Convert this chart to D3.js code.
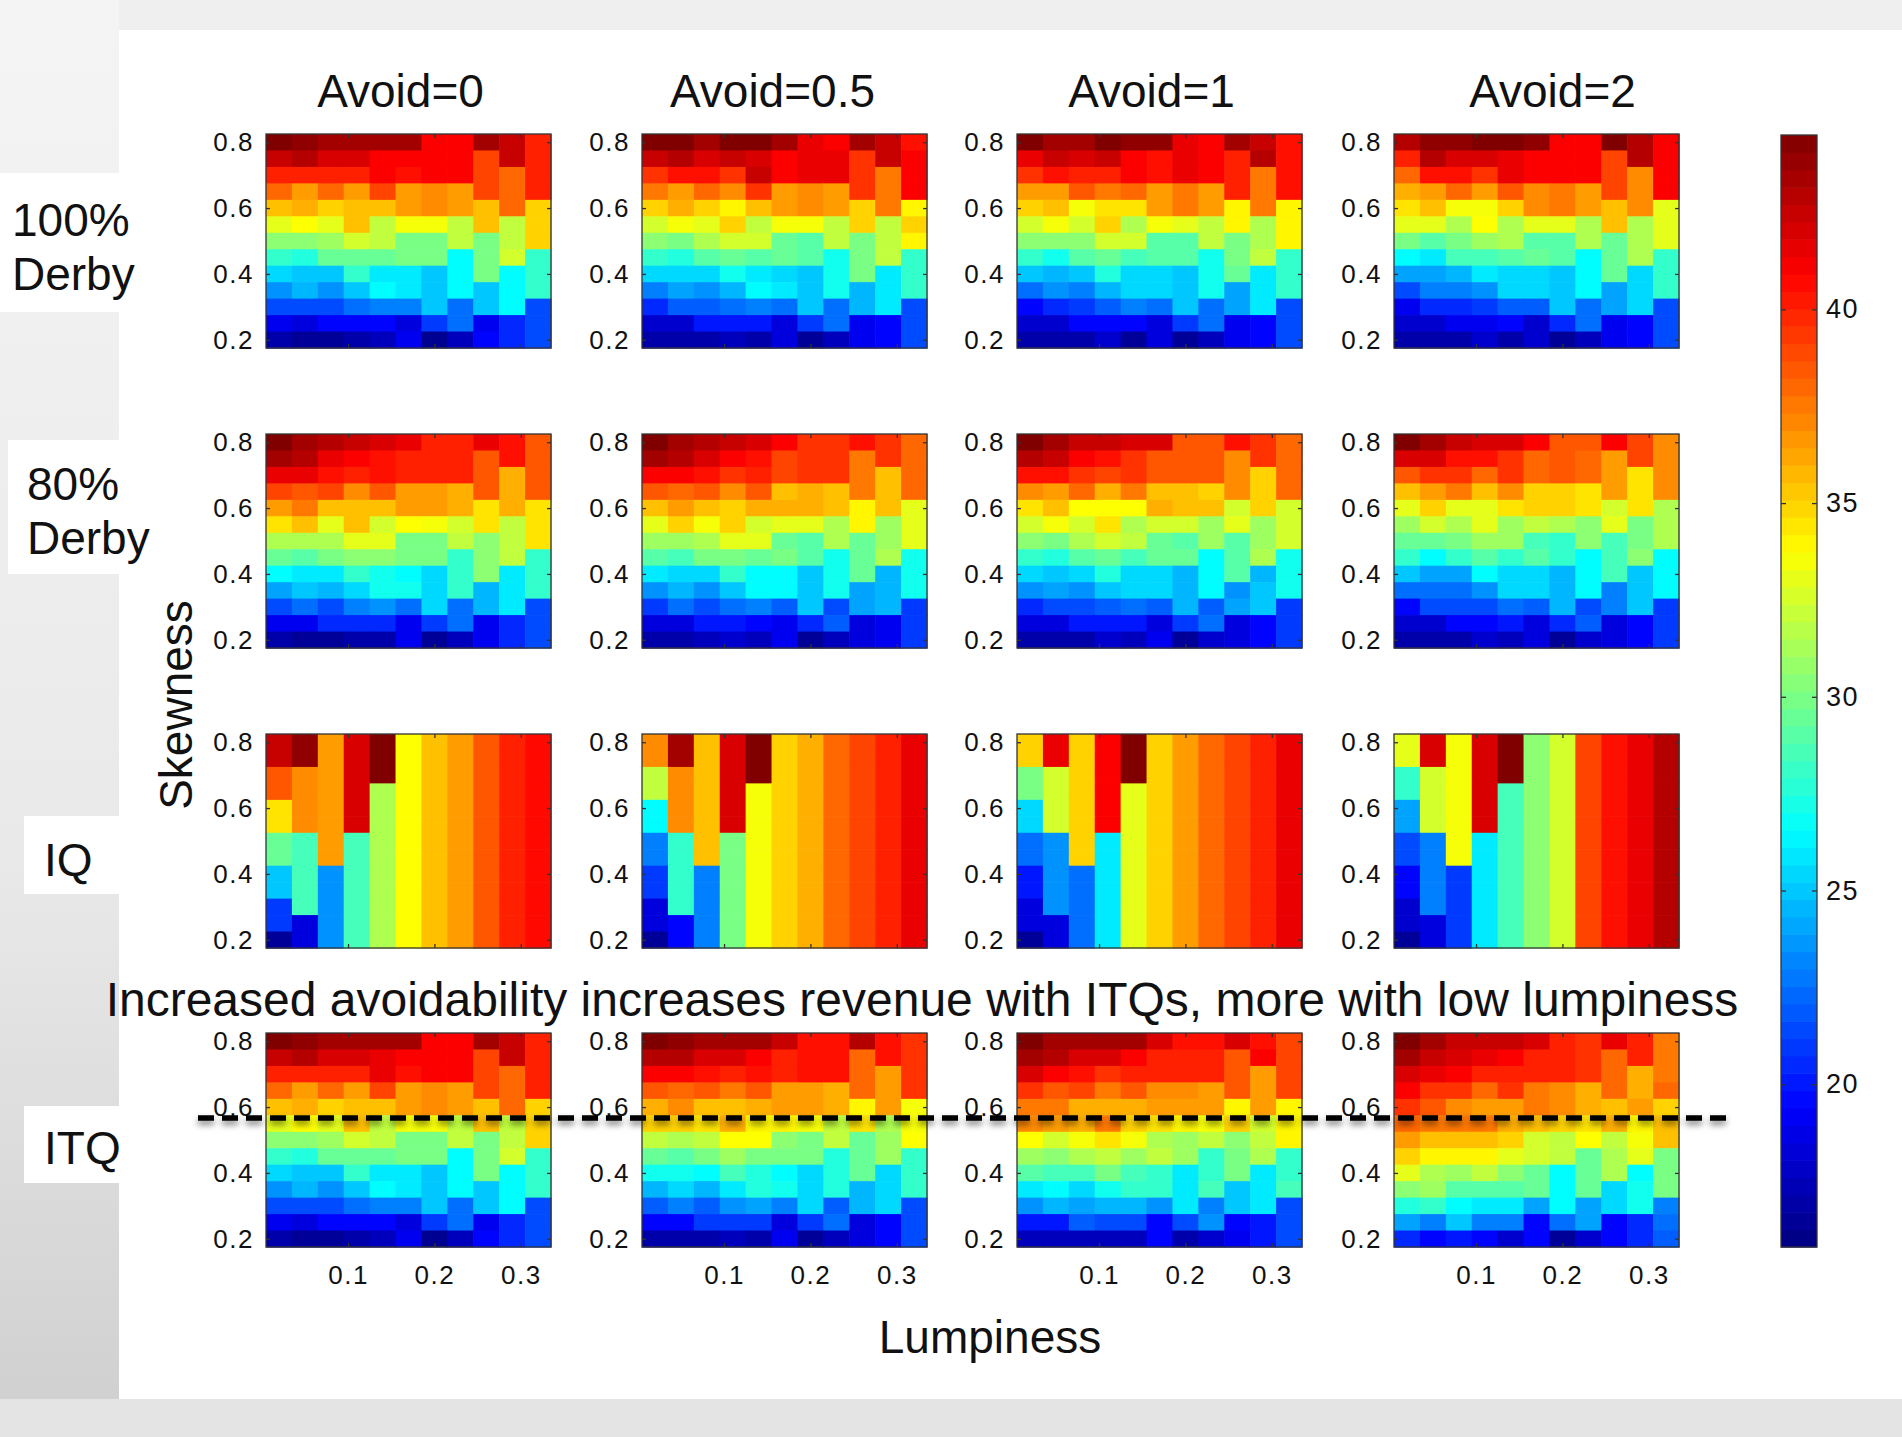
<!DOCTYPE html>
<html>
<head>
<meta charset="utf-8">
<script src="https://cdn.jsdelivr.net/npm/d3@7"></script>
<style>
html, body { margin: 0; padding: 0; background: #efefef; }
svg { display: block; font-family: "Liberation Sans", Arial, sans-serif; }
</style>
</head>
<body>
<svg id="chart" width="1902" height="1437"></svg>
<script>
// grid axes of every panel
const lumpiness = [0.02, 0.05, 0.08, 0.11, 0.14, 0.17, 0.2, 0.23, 0.26, 0.29, 0.32];
const skewness = [0.8, 0.75, 0.7, 0.65, 0.6, 0.55, 0.5, 0.45, 0.4, 0.35, 0.3, 0.25, 0.2];
const avoidLabels = ["Avoid=0", "Avoid=0.5", "Avoid=1", "Avoid=2"];
const rowLabels = [["100%", "Derby"], ["80%", "Derby"], ["IQ"], ["ITQ"]];
const colorTicks = [20, 25, 30, 35, 40];
const colorRange = [15.8, 44.5];

// revenue per cell, rows go from skewness 0.8 (top) to 0.2 (bottom)
const derby100_avoid0 = [
  [44.5, 44, 43.5, 43.5, 43.5, 43.5, 41, 41, 43.5, 42.5, 40],
  [42.5, 43, 42, 42, 41, 41, 41, 41, 39, 42.5, 40],
  [40, 40, 40, 40, 41, 40.5, 41, 41, 39, 38, 40],
  [38, 36.5, 38, 36.5, 39, 36.5, 37, 36.5, 39, 38, 40],
  [35.5, 36, 35, 35.5, 35.5, 36.5, 37, 36.5, 35.5, 38, 35],
  [33, 33.7, 33, 35.5, 32, 33.5, 33.5, 32, 35.5, 32, 35],
  [30.5, 30.5, 31, 32.5, 32, 30, 30, 32, 30, 32, 35],
  [28, 27.5, 29.5, 29.5, 29.5, 30, 30, 26.5, 30, 32.5, 28],
  [25.5, 25, 25, 28, 26, 26, 25, 26.5, 30, 26.5, 28],
  [23.5, 24.5, 23.5, 25, 26.5, 26, 25, 26.5, 25, 26.5, 28],
  [21.5, 21.5, 21.5, 22.5, 23, 23, 25, 22.5, 25, 26.5, 21.5],
  [19, 18.5, 19.5, 19.5, 19.5, 18.5, 21, 22.5, 19, 20.5, 21.5],
  [17, 16.5, 16.5, 17, 17.5, 19, 16.3, 17.5, 19.5, 20.5, 21.5]
];
const derby100_avoid05 = [
  [44.5, 44.5, 43.5, 44.5, 44.5, 43.5, 41.5, 41, 43.5, 42.5, 40.5],
  [42.5, 43, 42, 42.5, 42, 41, 41.5, 41.5, 39.5, 42.5, 41],
  [39.5, 40.5, 40.5, 39.5, 42.5, 41, 41.5, 41.5, 39.5, 37.5, 41],
  [37.5, 36.5, 38, 37, 39.5, 36.5, 37, 36.5, 39.5, 37.5, 41],
  [35, 36, 35, 34, 35.5, 36.5, 37, 36.5, 35, 37.5, 34],
  [32.5, 33.5, 33, 35, 32, 33.5, 33.5, 32, 35, 32, 35],
  [30.5, 30, 31.5, 32.5, 32.5, 29.5, 29, 32, 30, 32, 34],
  [28, 27.5, 29, 29.5, 29, 29.5, 29, 27, 30, 32, 28],
  [25.5, 25.5, 25.5, 27, 26, 25.5, 25, 27, 30, 26, 28],
  [23, 24, 23.5, 24.5, 26.5, 26, 25, 27, 24.5, 26, 28],
  [20.5, 22, 22, 22.5, 23, 22.5, 25, 22.5, 24.5, 26, 21.5],
  [18, 18, 20, 20, 20, 18.5, 21, 22.5, 19, 19.5, 21.5],
  [17, 17, 17, 17.5, 17, 18.5, 16.5, 17.5, 19, 19.5, 21.5]
];
const derby100_avoid1 = [
  [44.5, 43.5, 43.5, 44.5, 44, 44, 41.5, 41, 43.5, 42.5, 40.5],
  [41.5, 42.5, 42, 42.5, 41, 40.5, 41.5, 41, 40, 43, 40.5],
  [39.5, 40.5, 40, 40, 41, 40.5, 41.5, 41, 40, 37.5, 40.5],
  [36.5, 36.5, 38.5, 37.5, 38, 36.5, 37.5, 36.5, 40, 37.5, 40.5],
  [35, 35.5, 33.5, 34.5, 34.5, 36.5, 37.5, 36.5, 34, 37.5, 34],
  [32.5, 33.5, 32.5, 35, 31.5, 33.5, 33, 32, 34, 31.5, 34],
  [30.5, 30.5, 30.5, 32.5, 32.5, 29, 29, 32, 30, 31.5, 34],
  [28, 27, 29, 29.5, 28.5, 29, 29, 27, 30, 32, 28],
  [25, 24.5, 25, 27.5, 25.5, 25.5, 25, 27, 29.5, 26, 28],
  [22.5, 23.5, 23, 24.5, 25.5, 25.5, 25, 27, 24, 26, 28],
  [19.5, 20.5, 21, 22, 23, 22.5, 25, 22.5, 24, 26, 21.5],
  [18, 18, 19.5, 19.5, 19.5, 18.5, 21, 22.5, 19, 19.5, 21.5],
  [17, 17, 17, 18, 16.5, 18.5, 16.5, 17.5, 19, 19.5, 21.5]
];
const derby100_avoid2 = [
  [43, 44, 44, 44.5, 44.5, 44, 41, 41, 44.5, 43, 41],
  [40, 43, 42, 42, 41.5, 41, 41, 41, 39, 43, 41],
  [38, 40.5, 40.5, 39.5, 41.5, 41, 41, 41, 39, 37, 41],
  [36, 36.5, 38, 36.5, 38.5, 37, 37.5, 36.5, 39, 37, 41],
  [34.5, 35.5, 33.5, 33.5, 35, 37, 37.5, 36.5, 35.5, 37, 33],
  [33, 33, 31.5, 33.7, 31.5, 33, 33, 31.5, 35.5, 31.5, 33],
  [30, 29, 30, 31, 31.5, 29, 29, 31.5, 29.5, 31.5, 33],
  [26.5, 26, 28.5, 28.5, 29, 29.5, 29, 26.5, 29.5, 31.5, 28],
  [24, 24, 24.5, 26, 25.5, 25.5, 25, 26.5, 29.5, 25.5, 28],
  [21.5, 23, 23, 23.5, 25.5, 25.5, 25, 26.5, 24, 25.5, 28],
  [19, 20.5, 20.5, 21, 22, 22, 25, 22.5, 24, 25.5, 21.5],
  [18, 18, 19, 19, 19.5, 18, 20.5, 22.5, 19, 19.5, 21.5],
  [17, 17, 17, 18, 17, 18, 16.5, 17.5, 19, 19.5, 21.5]
];
const derby80_avoid0 = [
  [44.5, 43.5, 43, 42.5, 42, 41.5, 40, 40, 41.5, 40.5, 38.5],
  [43.5, 43, 41.5, 41, 40.5, 40, 40, 40, 38.5, 40.5, 38.5],
  [41.5, 41.5, 40.5, 40, 40.5, 40, 40, 40, 38.5, 36, 38.5],
  [39, 38.5, 39, 37, 38.5, 36.5, 36.5, 36, 38.5, 36, 38.5],
  [36.5, 37.5, 35.5, 35.5, 35.5, 36.5, 36.5, 36, 34.5, 36, 34.5],
  [34.5, 35.5, 33, 35.5, 32.5, 33.7, 33.5, 32.5, 34.5, 32, 34.5],
  [31.5, 31.5, 31.5, 33, 33, 30, 30, 32, 30.5, 32, 34.5],
  [29.5, 29, 30, 30.5, 30.5, 30, 30, 28, 30.5, 32, 28],
  [26.5, 26, 26, 28, 27, 26.5, 25.5, 28, 30.5, 26, 28],
  [24, 25, 24.5, 25.5, 27, 27, 25.5, 28, 24.5, 26, 28],
  [21.5, 22.5, 21.5, 23, 23.5, 22.5, 25.5, 22.5, 24.5, 26, 21.5],
  [19, 19, 20.5, 20.5, 20.5, 19, 21, 22.5, 19, 20.5, 21.5],
  [17, 16.5, 16.5, 17, 17, 19, 16.5, 17.5, 19, 20.5, 21.5]
];
const derby80_avoid05 = [
  [44.5, 43.5, 43, 42.5, 42, 41, 39.5, 39.5, 40.5, 39.5, 38],
  [43.5, 43, 42, 41, 40.5, 39, 39.5, 39.5, 37.5, 39.5, 38],
  [41, 41, 40.5, 39.5, 40, 39, 39.5, 39.5, 37.5, 35.5, 38],
  [38.5, 38, 38.5, 37, 38.5, 35.5, 36, 35.5, 37.5, 35.5, 38],
  [35.5, 36.5, 35.5, 35, 36, 36, 36, 35.5, 34, 35.5, 33],
  [33, 35, 33.5, 35, 32.5, 33, 33, 31.5, 34, 31, 33],
  [31, 31, 31.5, 33, 33, 29.5, 29, 31.5, 29.5, 31, 33],
  [29, 28.5, 30, 30, 29.5, 30, 29, 27, 29.5, 31.5, 27],
  [26, 25.5, 25.5, 28, 26.5, 26.5, 25, 27, 29.5, 24.5, 27],
  [23.5, 24.5, 23.5, 25, 26.5, 26.5, 25, 27, 24, 24.5, 27],
  [21, 22.5, 21.5, 22.5, 23, 22, 25, 21.5, 24, 24.5, 21],
  [18.5, 18.5, 20, 20, 19.5, 19, 20.5, 22, 18.5, 19, 21],
  [17, 17, 17.5, 18, 17.5, 19, 16.5, 17.5, 18.5, 19, 21]
];
const derby80_avoid1 = [
  [44.5, 43.5, 42.5, 42.5, 42, 42, 38.5, 38.5, 40.5, 39.5, 38],
  [43, 42.5, 41, 40.5, 39.5, 38.5, 38.5, 38.5, 37, 39.5, 38],
  [40.5, 40.5, 39.5, 39, 39.5, 38.5, 38.5, 38.5, 37, 35, 38],
  [37, 36.5, 38, 36, 37.5, 35.5, 35.5, 35, 37, 35, 38],
  [34.5, 35.5, 33.7, 33.7, 33.7, 36, 35.5, 35.5, 32.5, 35, 32.5],
  [32.5, 33.5, 32.5, 34.5, 31.5, 32.5, 32.5, 31, 33, 31, 32.5],
  [30.5, 30, 31.5, 32.5, 32, 29.5, 29, 31, 29, 31, 32.5],
  [28, 27.5, 29, 29.5, 28.5, 29.5, 29.5, 26.5, 29, 31.5, 27],
  [25.5, 25, 25.5, 27.5, 25.5, 25.5, 24.5, 26.5, 29, 24.5, 27],
  [23.5, 24, 23.5, 25, 25.5, 25.5, 24.5, 26.5, 23.5, 25, 27],
  [20.5, 21.5, 21.5, 22, 22.5, 22, 24.5, 22, 24, 25, 21],
  [18.5, 18.5, 20, 20, 20, 18.5, 21, 22.5, 18.5, 19.5, 21],
  [17, 17, 17, 18, 17.5, 19, 16.5, 18, 18.5, 19.5, 21]
];
const derby80_avoid2 = [
  [44.5, 43.5, 42.5, 42, 42, 41, 38.5, 38.5, 41, 39, 37],
  [42, 42, 40.5, 40.5, 39.5, 38, 38.5, 38, 36.5, 39, 37],
  [38.5, 39.5, 39.5, 38, 39.5, 38, 38.5, 38, 36.5, 34.5, 37],
  [35.5, 36.5, 37.5, 35.5, 37, 35, 35, 34.5, 36.5, 34.5, 37],
  [33, 35, 33, 33, 34.5, 35, 35, 34.5, 32.5, 34.5, 31.5],
  [31, 32.5, 31.5, 33, 31, 32, 31.5, 30.5, 33, 30, 31.5],
  [29.5, 29.5, 30, 31, 31, 28.5, 28, 30.5, 28.5, 30, 31.5],
  [28, 26.5, 28, 29, 28, 29, 28, 26.5, 28.5, 30.5, 26.5],
  [25, 24, 24, 26.5, 25.5, 25.5, 24.5, 26.5, 28.5, 25, 26.5],
  [22.5, 22.5, 22.5, 23.5, 25.5, 25.5, 24.5, 26.5, 23, 25, 26.5],
  [19.5, 21.5, 21.5, 21.5, 22.5, 22, 24.5, 21.5, 23, 25, 21],
  [18, 18, 19.5, 19.5, 20, 18.5, 20.5, 22, 18.5, 19.5, 21],
  [17, 17, 17, 18, 17.5, 18.5, 16.5, 18, 18.5, 19.5, 21]
];
const iq_avoid0 = [
  [42.5, 44, 36.5, 42, 44.5, 33.7, 35.5, 36.5, 38.5, 40, 40.7],
  [42.5, 44, 36.5, 42, 44.5, 33.7, 35.5, 36.5, 38.5, 40, 40.7],
  [38.5, 37, 36.5, 42, 44.5, 33.7, 35.5, 36.5, 38.5, 40, 40.7],
  [38.5, 37, 36.5, 42, 31.5, 33.7, 35.5, 36.5, 38.5, 40, 40.7],
  [34.5, 37, 36.5, 42, 31.5, 33.7, 35.5, 36.5, 38.5, 40, 40.7],
  [34.5, 37, 36.5, 42, 31.5, 33.7, 35.5, 36.5, 38.5, 40, 40.7],
  [29.5, 28.5, 36.5, 28.5, 31.5, 33.7, 35.5, 36.5, 38.5, 40, 40.7],
  [29.5, 28.5, 36.5, 28.5, 31.5, 33.7, 35.5, 36.5, 38.5, 40, 40.7],
  [25, 28.5, 23.5, 28.5, 31.5, 33.7, 35.5, 36.5, 38.5, 40, 40.7],
  [25, 28.5, 23.5, 28.5, 31.5, 33.7, 35.5, 36.5, 38.5, 40, 40.7],
  [21, 28.5, 23.5, 28.5, 31.5, 33.7, 35.5, 36.5, 38.5, 40, 40.7],
  [21, 18.5, 23.5, 28.5, 31.5, 33.7, 35.5, 36.5, 38.5, 40, 40.7],
  [16.5, 18.5, 23.5, 28.5, 31.5, 33.7, 35.5, 36.5, 38.5, 40, 40.7]
];
const iq_avoid05 = [
  [37, 43.5, 35.5, 42, 44.5, 35, 36, 38, 39, 40, 41.5],
  [37, 43.5, 35.5, 42, 44.5, 35, 36, 38, 39, 40, 41.5],
  [32, 37, 35.5, 42, 44.5, 35, 36, 38, 39, 40, 41.5],
  [32, 37, 35.5, 42, 33.5, 35, 36, 38, 39, 40, 41.5],
  [26.5, 37, 35.5, 42, 33.5, 35, 36, 38, 39, 40, 41.5],
  [26.5, 37, 35.5, 42, 33.5, 35, 36, 38, 39, 40, 41.5],
  [23, 28, 35.5, 30, 33.5, 35, 36, 38, 39, 40, 41.5],
  [23, 28, 35.5, 30, 33.5, 35, 36, 38, 39, 40, 41.5],
  [21, 28, 23, 30, 33.5, 35, 36, 38, 39, 40, 41.5],
  [21, 28, 23, 30, 33.5, 35, 36, 38, 39, 40, 41.5],
  [18.5, 28, 23, 30, 33.5, 35, 36, 38, 39, 40, 41.5],
  [18.5, 19.5, 23, 30, 33.5, 35, 36, 38, 39, 40, 41.5],
  [16.5, 19.5, 23, 30, 33.5, 35, 36, 38, 39, 40, 41.5]
];
const iq_avoid1 = [
  [35, 41.5, 35, 41, 44.5, 35, 36.5, 38, 39, 40, 41.5],
  [35, 41.5, 35, 41, 44.5, 35, 36.5, 38, 39, 40, 41.5],
  [30, 32.5, 35, 41, 44.5, 35, 36.5, 38, 39, 40, 41.5],
  [30, 32.5, 35, 41, 33, 35, 36.5, 38, 39, 40, 41.5],
  [25.5, 32.5, 35, 41, 33, 35, 36.5, 38, 39, 40, 41.5],
  [25.5, 32.5, 35, 41, 33, 35, 36.5, 38, 39, 40, 41.5],
  [22.5, 23.5, 35, 26, 33, 35, 36.5, 38, 39, 40, 41.5],
  [22.5, 23.5, 35, 26, 33, 35, 36.5, 38, 39, 40, 41.5],
  [20, 23.5, 22.5, 26, 33, 35, 36.5, 38, 39, 40, 41.5],
  [20, 23.5, 22.5, 26, 33, 35, 36.5, 38, 39, 40, 41.5],
  [18.5, 23.5, 22.5, 26, 33, 35, 36.5, 38, 39, 40, 41.5],
  [18.5, 18.5, 22.5, 26, 33, 35, 36.5, 38, 39, 40, 41.5],
  [16.5, 18.5, 22.5, 26, 33, 35, 36.5, 38, 39, 40, 41.5]
];
const iq_avoid2 = [
  [33, 42, 33.5, 42, 44.5, 30.5, 32.5, 39, 40.5, 41.5, 43],
  [33, 42, 33.5, 42, 44.5, 30.5, 32.5, 39, 40.5, 41.5, 43],
  [28, 32.5, 33.5, 42, 44.5, 30.5, 32.5, 39, 40.5, 41.5, 43],
  [28, 32.5, 33.5, 42, 28.5, 30.5, 32.5, 39, 40.5, 41.5, 43],
  [24, 32.5, 33.5, 42, 28.5, 30.5, 32.5, 39, 40.5, 41.5, 43],
  [24, 32.5, 33.5, 42, 28.5, 30.5, 32.5, 39, 40.5, 41.5, 43],
  [21.5, 23, 33.5, 26, 28.5, 30.5, 32.5, 39, 40.5, 41.5, 43],
  [21.5, 23, 33.5, 26, 28.5, 30.5, 32.5, 39, 40.5, 41.5, 43],
  [19.5, 23, 21, 26, 28.5, 30.5, 32.5, 39, 40.5, 41.5, 43],
  [19.5, 23, 21, 26, 28.5, 30.5, 32.5, 39, 40.5, 41.5, 43],
  [18, 23, 21, 26, 28.5, 30.5, 32.5, 39, 40.5, 41.5, 43],
  [18, 18.5, 21, 26, 28.5, 30.5, 32.5, 39, 40.5, 41.5, 43],
  [16.5, 18.5, 21, 26, 28.5, 30.5, 32.5, 39, 40.5, 41.5, 43]
];
const itq_avoid0 = [
  [44.5, 44, 43.5, 43.5, 43.5, 43.5, 41, 41, 43.5, 42.5, 40],
  [42.5, 43, 42, 42, 41.5, 41, 41, 41, 39, 42.5, 40],
  [40, 40, 40, 40, 41.5, 40.5, 41, 41, 39, 38, 40],
  [38, 36.5, 38, 36.5, 39, 36.5, 37, 36.5, 39, 38, 40],
  [35.5, 36, 35, 35.5, 35.5, 36.5, 37, 36.5, 35.5, 38, 35],
  [33, 33.7, 33, 35.5, 32, 33.5, 33.5, 32, 35.5, 32, 35],
  [30.5, 30.5, 31, 32.5, 32, 30, 30, 32, 30, 32, 35],
  [28, 27.5, 29.5, 29.5, 29.5, 30, 30, 26.5, 30, 32.5, 28],
  [25.5, 25, 25, 28, 26, 26, 25, 26.5, 30, 26.5, 28],
  [23.5, 24.5, 23.5, 25, 26.5, 26, 25, 26.5, 25, 26.5, 28],
  [21.5, 21.5, 21.5, 22.5, 23, 23, 25, 22.5, 25, 26.5, 21.5],
  [19, 18.5, 19.5, 19.5, 19.5, 18.5, 21, 22.5, 19, 20.5, 21.5],
  [17, 16.5, 16.5, 17, 17.5, 19, 16.3, 17.5, 19.5, 20.5, 21.5]
];
const itq_avoid05 = [
  [44.5, 44, 43.5, 43.5, 43.5, 42.5, 40.5, 40.5, 43, 40.5, 39.5],
  [43, 43, 42, 42, 41, 40, 40.5, 40.5, 38, 40.5, 39.5],
  [41, 41, 40.5, 40, 40.5, 40, 40.5, 40.5, 38, 36.5, 39.5],
  [38.5, 38, 38.5, 37.5, 38.5, 36.5, 36.5, 36, 38, 36.5, 39.5],
  [36, 37, 35.5, 35.5, 36, 36.5, 36.5, 36, 34, 36.5, 33.5],
  [35, 35, 34.5, 36, 34, 34, 33.5, 32, 34.5, 31.5, 33.5],
  [32, 31.5, 32, 33.7, 33.7, 30.5, 30, 32, 29.5, 31, 33.7],
  [29.5, 29, 30, 31, 30, 30, 30, 27.5, 29.5, 31, 28],
  [27, 27, 26.5, 28.5, 27.5, 26.5, 25.5, 27.5, 29.5, 25.5, 28],
  [24.5, 25.5, 24.5, 26, 27.5, 27, 25.5, 27.5, 24.5, 25.5, 28],
  [22, 23, 22, 23.5, 24, 23, 25.5, 22, 24.5, 25.5, 21.5],
  [19.5, 19.5, 21, 21, 21, 18.5, 21, 22.5, 18.5, 19.5, 21.5],
  [17, 17, 17, 17.5, 17, 19, 16.5, 17.5, 18.5, 19.5, 21.5]
];
const itq_avoid1 = [
  [44.5, 43.5, 43.5, 43.5, 43.5, 42, 40.5, 40.5, 42, 40.5, 39],
  [43.5, 43, 42, 42, 41, 40, 40, 40, 38.5, 41, 39],
  [42, 41, 40.5, 39.5, 40, 40, 40, 40, 38.5, 36.5, 39],
  [39.5, 38.5, 39, 37.5, 38.5, 37, 37, 36.5, 38.5, 36.5, 39],
  [37.5, 37.5, 36, 36, 36, 36.5, 36.5, 36.5, 34, 36.5, 34],
  [37, 36.5, 36, 37.5, 35, 34.5, 34, 33.5, 35, 32.5, 34],
  [33.7, 32.5, 33.5, 34.5, 33.5, 31.5, 31, 32, 30.5, 32, 34],
  [31, 30.5, 31.5, 32, 31, 32, 31, 28, 30, 31.5, 28],
  [29, 28.5, 28.5, 30, 28.5, 28, 26, 28, 30, 26, 28],
  [26, 26.5, 25.5, 27, 28, 28, 26, 28.5, 25, 26, 28.5],
  [23.5, 24.5, 24, 24.5, 24.5, 23.5, 26, 23, 25, 26, 21.5],
  [20, 20, 22, 21.5, 21.5, 19.5, 21.5, 23.5, 19.5, 20, 21.5],
  [17.5, 17.5, 17.5, 17.5, 17.5, 19.5, 17, 18, 19, 20, 21.5]
];
const itq_avoid2 = [
  [44.5, 43.5, 42.5, 42.5, 42.5, 42, 40, 39.5, 41.5, 40, 37.5],
  [43.5, 42.5, 42, 41.5, 41, 40, 40, 39.5, 38, 40, 37.5],
  [42, 41.5, 41, 40, 40, 40, 40, 39.5, 38, 36, 37.5],
  [41, 39.5, 39.5, 38, 39.5, 37.5, 37, 36, 38, 36, 38],
  [39.5, 38.5, 37, 36.5, 36.5, 37.5, 37, 36, 35.5, 36.5, 35],
  [38, 37.5, 37.5, 37.5, 36, 35.5, 35, 34.5, 36, 34, 35.5],
  [36.5, 35.5, 35.5, 35.5, 35, 32.5, 32, 33.7, 32, 33.5, 35.5],
  [35, 34, 34, 34, 33, 32.5, 32, 29.5, 31.5, 33, 30],
  [33, 31.5, 31, 32, 30.5, 29.5, 26.5, 29.5, 31.5, 26.5, 30],
  [30.5, 31, 29, 29, 29, 29.5, 26.5, 29.5, 25.5, 27, 30],
  [27.5, 28, 26.5, 26, 26, 24, 26.5, 24, 25.5, 27, 23],
  [24, 23, 25, 23, 23, 19.5, 22.5, 24, 19.5, 20.5, 22.5],
  [20.5, 19.5, 20, 19.5, 18, 19.5, 16.5, 18, 19.5, 20.5, 22]
];

const panels = [
  [derby100_avoid0, derby100_avoid05, derby100_avoid1, derby100_avoid2],
  [derby80_avoid0, derby80_avoid05, derby80_avoid1, derby80_avoid2],
  [iq_avoid0, iq_avoid05, iq_avoid1, iq_avoid2],
  [itq_avoid0, itq_avoid05, itq_avoid1, itq_avoid2]
];

// layout
const panelLeft = [266, 642, 1017, 1394];
const panelTop = [134, 434, 734, 1033];
const panelW = 285;
const panelH = 214;
const titleShift = [-8, -12, -8, 16];

// MATLAB jet colormap
function jet(t) {
  const c = (v) => Math.round(255 * Math.max(0, Math.min(1, v)));
  return `rgb(${c(1.5 - Math.abs(4 * t - 3))},${c(1.5 - Math.abs(4 * t - 2))},${c(1.5 - Math.abs(4 * t - 1))})`;
}
const color = d3.scaleSequential(jet).domain(colorRange);

const svg = d3.select("#chart");

// slide background
const defs = svg.append("defs");
const bg = defs.append("linearGradient").attr("id", "leftbg")
  .attr("x1", 0).attr("y1", 0).attr("x2", 0).attr("y2", 1);
bg.append("stop").attr("offset", "0%").attr("stop-color", "#f4f4f4");
bg.append("stop").attr("offset", "60%").attr("stop-color", "#e9e9e9");
bg.append("stop").attr("offset", "100%").attr("stop-color", "#cfcfcf");
// horizontal line has an empty bbox, so the filter region is in user space
const shadow = defs.append("filter").attr("id", "shadow")
  .attr("filterUnits", "userSpaceOnUse")
  .attr("x", 150).attr("y", 1090).attr("width", 1650).attr("height", 60);
shadow.append("feDropShadow").attr("dx", 0).attr("dy", 4)
  .attr("stdDeviation", 3).attr("flood-color", "#000").attr("flood-opacity", 0.5);

svg.append("rect").attr("width", 1902).attr("height", 1437).attr("fill", "#efefef");
svg.append("rect").attr("x", 0).attr("y", 0).attr("width", 119).attr("height", 1437).attr("fill", "url(#leftbg)");
svg.append("rect").attr("x", 0).attr("y", 1399).attr("width", 1902).attr("height", 38).attr("fill", "#e4e4e4");
svg.append("rect").attr("x", 119).attr("y", 30).attr("width", 1783).attr("height", 1369).attr("fill", "#fff");

const x = d3.scaleLinear().domain([0.005, 0.335]).range([0, panelW]);
const y = d3.scaleLinear().domain([0.175, 0.825]).range([panelH, 0]);
const fmt = d3.format(".1f");

panels.forEach((row, r) => {
  row.forEach((grid, c) => {
    const g = svg.append("g").attr("transform", `translate(${panelLeft[c]},${panelTop[r]})`);
    const cells = [];
    grid.forEach((vals, i) => vals.forEach((v, j) => cells.push({ skew: skewness[i], lump: lumpiness[j], v })));
    g.selectAll("rect.cell").data(cells).join("rect")
      .attr("class", "cell")
      .attr("x", (d) => x(d.lump - 0.015))
      .attr("y", (d) => y(d.skew + 0.025))
      .attr("width", x(0.03) - x(0) + 0.6)
      .attr("height", y(0) - y(0.05) + 0.6)
      .attr("fill", (d) => color(d.v));
    g.append("rect").attr("width", panelW).attr("height", panelH)
      .attr("fill", "none").attr("stroke", "#333").attr("stroke-width", 1.3);

    const yl = g.append("g").call(d3.axisLeft(y).tickValues([0.2, 0.4, 0.6, 0.8])
      .tickSize(-4).tickPadding(12).tickFormat(fmt));
    const yr = g.append("g").attr("transform", `translate(${panelW},0)`)
      .call(d3.axisRight(y).tickValues([0.2, 0.4, 0.6, 0.8]).tickSize(-4).tickFormat(""));
    const xt = g.append("g").call(d3.axisTop(x).tickValues([0.1, 0.2, 0.3]).tickSize(-4).tickFormat(""));
    const xb = g.append("g").attr("transform", `translate(0,${panelH})`)
      .call(d3.axisBottom(x).tickValues([0.1, 0.2, 0.3]).tickSize(-4).tickPadding(19)
        .tickFormat(r === panels.length - 1 ? fmt : ""));
    [yl, yr, xt, xb].forEach((a) => {
      a.select(".domain").remove();
      a.selectAll("line").attr("stroke", "#333").attr("stroke-width", 1.3);
      a.selectAll("text").attr("font-size", 26).attr("fill", "#111")
        .attr("letter-spacing", 1.5).attr("font-family", "Liberation Sans, Arial, sans-serif");
    });
  });
});

// column titles
svg.selectAll("text.avoid").data(avoidLabels).join("text")
  .attr("class", "avoid")
  .attr("x", (d, i) => panelLeft[i] + panelW / 2 + titleShift[i])
  .attr("y", 107)
  .attr("text-anchor", "middle")
  .attr("font-size", 46)
  .attr("fill", "#111")
  .text((d) => d);

// row labels on white boxes
const rowBoxes = [[0, 173, 119, 139], [8, 440, 111, 134], [24, 816, 95, 78], [24, 1106, 95, 77]];
const rowText = [[12, 236], [27, 500], [44, 876], [44, 1164]];
rowLabels.forEach((lines, i) => {
  const b = rowBoxes[i];
  svg.append("rect").attr("x", b[0]).attr("y", b[1]).attr("width", b[2]).attr("height", b[3]).attr("fill", "#fff");
  lines.forEach((t, k) => {
    svg.append("text").attr("x", rowText[i][0]).attr("y", rowText[i][1] + k * 54)
      .attr("font-size", 46).attr("fill", "#111").text(t);
  });
});

// axis titles
svg.append("text").attr("transform", "translate(192,705) rotate(-90)")
  .attr("text-anchor", "middle").attr("font-size", 46).attr("fill", "#111").text("Skewness");
svg.append("text").attr("x", 990).attr("y", 1353)
  .attr("text-anchor", "middle").attr("font-size", 46).attr("fill", "#111").text("Lumpiness");

// annotation and threshold line
svg.append("text").attr("x", 922).attr("y", 1016)
  .attr("text-anchor", "middle").attr("font-size", 48).attr("fill", "#111")
  .text("Increased avoidability increases revenue with ITQs, more with low lumpiness");
svg.append("line").attr("x1", 198).attr("x2", 1731).attr("y1", 1118).attr("y2", 1118)
  .attr("stroke", "#000").attr("stroke-width", 5.5).attr("stroke-dasharray", "16,8")
  .attr("filter", "url(#shadow)");

// colorbar
const cbX = 1781, cbW = 36, cbTop = 135, cbBottom = 1247;
const cy = d3.scaleLinear().domain(colorRange).range([cbBottom, cbTop]);
const steps = d3.range(64).map((i) => colorRange[0] + (i + 0.5) * (colorRange[1] - colorRange[0]) / 64);
const stepH = (cbBottom - cbTop) / 64;
const cb = svg.append("g").attr("transform", `translate(${cbX},0)`);
cb.selectAll("rect").data(steps).join("rect")
  .attr("x", 0).attr("width", cbW)
  .attr("y", (d) => cy(d) - stepH / 2).attr("height", stepH + 0.6)
  .attr("fill", (d) => color(d));
cb.append("rect").attr("y", cbTop).attr("width", cbW).attr("height", cbBottom - cbTop)
  .attr("fill", "none").attr("stroke", "#333").attr("stroke-width", 1.3);
const cbl = cb.append("g").call(d3.axisLeft(cy).tickValues(colorTicks).tickSize(-5).tickFormat(""));
const cbr = cb.append("g").attr("transform", `translate(${cbW},0)`)
  .call(d3.axisRight(cy).tickValues(colorTicks).tickSize(-5).tickPadding(9));
[cbl, cbr].forEach((a) => {
  a.select(".domain").remove();
  a.selectAll("line").attr("stroke", "#333").attr("stroke-width", 1.3);
  a.selectAll("text").attr("font-size", 27).attr("fill", "#111").attr("letter-spacing", 1.5)
    .attr("font-family", "Liberation Sans, Arial, sans-serif");
});
</script>
</body>
</html>
